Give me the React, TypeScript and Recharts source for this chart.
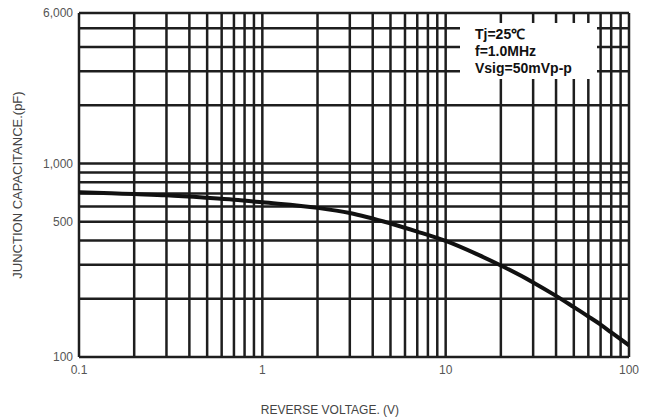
import { CartesianGrid, Line, LineChart, XAxis, YAxis } from "recharts";

const voltage = [0.1, 0.15, 0.2, 0.3, 0.5, 0.7, 1, 2, 3, 5, 7, 10, 15, 20, 30, 40, 50, 60, 70, 80, 100];
const capacitance = [710, 702, 695, 685, 665, 650, 630, 590, 555, 490, 445, 398, 338, 297, 243, 207, 181, 162, 147, 134, 115];

const xTicks = [
  0.1, 0.2, 0.3, 0.4, 0.5, 0.6, 0.7, 0.8, 0.9,
  1, 2, 3, 4, 5, 6, 7, 8, 9,
  10, 20, 30, 40, 50, 60, 70, 80, 90, 100,
];
const yTicks = [100, 200, 300, 400, 500, 600, 700, 800, 900, 1000, 2000, 3000, 4000, 5000, 6000];

const xTickLabels: Record<number, string> = { 0.1: "0.1", 1: "1", 10: "10", 100: "100" };
const yTickLabels: Record<number, string> = { 100: "100", 500: "500", 1000: "1,000", 6000: "6,000" };

const conditions = ["Tj=25℃", "f=1.0MHz", "Vsig=50mVp-p"];

const data = voltage.map((v, i) => ({ v, c: capacitance[i] }));

const FONT = "'Liberation Sans', Arial, sans-serif";
const tickStyle = { fill: "#555", fontSize: 12, fontFamily: FONT };

export default function App() {
  return (
    <div style={{ position: "absolute", left: 0, top: 0, width: 646, height: 419, background: "#fff" }}>
      <LineChart width={646} height={419} data={data} margin={{ top: 13, right: 17, left: 0, bottom: 0 }}>
        <CartesianGrid stroke="#1e1e1e" strokeWidth={2.5} horizontalValues={yTicks} verticalValues={xTicks} />
        <XAxis
          dataKey="v"
          type="number"
          scale="log"
          domain={[0.1, 100]}
          ticks={xTicks}
          interval={0}
          allowDataOverflow
          axisLine={false}
          tickLine={false}
          tickMargin={2}
          height={62}
          tick={tickStyle}
          tickFormatter={(t) => xTickLabels[Number(t)] ?? ""}
        />
        <YAxis
          type="number"
          scale="log"
          domain={[100, 6000]}
          ticks={yTicks}
          interval={0}
          allowDataOverflow
          axisLine={false}
          tickLine={false}
          tickMargin={0}
          width={79}
          tick={tickStyle}
          tickFormatter={(t) => yTickLabels[Number(t)] ?? ""}
        />
        <Line
          type="monotone"
          dataKey="c"
          stroke="#111"
          strokeWidth={4}
          dot={false}
          isAnimationActive={false}
        />
      </LineChart>

      <div
        style={{
          position: "absolute",
          left: 460,
          top: 23,
          width: 137,
          height: 56,
          background: "#fff",
          fontFamily: FONT,
          fontWeight: "bold",
          fontSize: 14,
          lineHeight: "17px",
          color: "#111",
          paddingLeft: 15,
          paddingTop: 3,
          boxSizing: "border-box",
        }}
      >
        {conditions.map((line) => (
          <div key={line}>{line}</div>
        ))}
      </div>

      <div
        style={{
          position: "absolute",
          left: 17,
          top: 185,
          transform: "translate(-50%, -50%) rotate(-90deg)",
          whiteSpace: "nowrap",
          fontFamily: FONT,
          fontSize: 13,
          color: "#444",
        }}
      >
        JUNCTION CAPACITANCE.(pF)
      </div>

      <div
        style={{
          position: "absolute",
          left: 330,
          top: 410,
          transform: "translate(-50%, -50%)",
          whiteSpace: "nowrap",
          fontFamily: FONT,
          fontSize: 12,
          color: "#444",
        }}
      >
        REVERSE VOLTAGE. (V)
      </div>
    </div>
  );
}
